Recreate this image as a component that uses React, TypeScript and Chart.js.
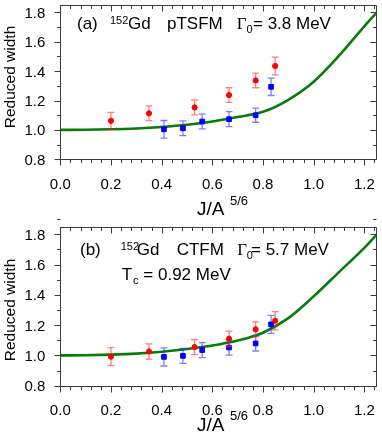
import React, { useEffect, useRef } from "react";
import { Chart, registerables } from "chart.js";

Chart.register(...registerables);

// ---------- data ----------
const redX = [0.2, 0.35, 0.53, 0.666, 0.771, 0.848];
const blueX = [0.409, 0.484, 0.56, 0.666, 0.771, 0.832];

// panel (a): pTSFM
const redYA = [1.062, 1.113, 1.153, 1.237, 1.337, 1.435];
const redErrA = [0.058, 0.05, 0.051, 0.05, 0.05, 0.06];
const blueYA = [1.004, 1.011, 1.057, 1.073, 1.1, 1.293];
const blueErrA = [0.06, 0.05, 0.05, 0.051, 0.048, 0.059];

// panel (b): CTFM
const redYB = [0.992, 1.026, 1.055, 1.11, 1.172, 1.229];
const redErrB = [0.06, 0.05, 0.05, 0.051, 0.05, 0.06];
const blueYB = [0.99, 0.997, 1.035, 1.052, 1.079, 1.205];
const blueErrB = [0.06, 0.05, 0.05, 0.05, 0.05, 0.06];

// model curves
const curveX = [0, 0.1, 0.2, 0.3, 0.4, 0.5, 0.6, 0.7, 0.8, 0.9, 1.0, 1.1, 1.2, 1.25];
const curveYA = [1.0, 1.001, 1.004, 1.01, 1.02, 1.035, 1.057, 1.088, 1.123, 1.205, 1.328, 1.505, 1.705, 1.8];
const curveYB = [1.0, 1.001, 1.005, 1.012, 1.024, 1.042, 1.065, 1.098, 1.15, 1.246, 1.39, 1.55, 1.71, 1.8];

// axes
const X_MIN = 0;
const X_MAX = 1.25;
const Y_MIN = 0.8;
const Y_MAX = 1.85;
const X_MAJOR = 0.2;
const X_MINOR = 0.04;
const Y_MAJOR = 0.2;
const Y_MINOR = 0.1;

const SANS = "'Liberation Sans', Arial, Helvetica, sans-serif";
const SERIF = "'Liberation Serif', 'Times New Roman', serif";
const TICK_FONT = `15px ${SANS}`;

type TextItem = {
  text: string;
  x: number;
  y: number;
  size: number;
  family?: string;
  rotate?: boolean;
};

const frameTicksPlugin = {
  id: "frameTicks",
  afterDraw(chart: any) {
    const { ctx, chartArea: a, scales } = chart;
    const xs = scales.x;
    const ys = scales.y;
    const L = Math.round(a.left) + 0.5;
    const R = Math.round(a.right) - 0.5;
    const T = Math.round(a.top) + 0.5;
    const B = Math.round(a.bottom) + 0.5;
    ctx.save();
    ctx.strokeStyle = "#3a3a3a";
    ctx.lineWidth = 1;
    ctx.beginPath();
    ctx.rect(L, T, R - L, B - T);
    ctx.stroke();
    const nx = Math.round((X_MAX - X_MIN) / X_MINOR);
    const perMajX = Math.round(X_MAJOR / X_MINOR);
    ctx.beginPath();
    for (let i = 0; i <= nx; i++) {
      const v = X_MIN + i * X_MINOR;
      if (v > X_MAX + 1e-9) break;
      const len = i % perMajX === 0 ? 6 : 3.5;
      const px = Math.round(xs.getPixelForValue(v)) + 0.5;
      ctx.moveTo(px, B);
      ctx.lineTo(px, B + len);
      ctx.moveTo(px, T);
      ctx.lineTo(px, T + len);
    }
    const ny = Math.round((Y_MAX - Y_MIN) / Y_MINOR);
    const perMajY = Math.round(Y_MAJOR / Y_MINOR);
    for (let i = 0; i <= ny; i++) {
      const v = Y_MIN + i * Y_MINOR;
      const len = i % perMajY === 0 ? 6 : 3.5;
      const py = Math.round(ys.getPixelForValue(v)) + 0.5;
      ctx.moveTo(L - len, py);
      ctx.lineTo(L, py);
      ctx.moveTo(R - len, py);
      ctx.lineTo(R, py);
    }
    ctx.stroke();

    // tick labels from the scales' own ticks
    ctx.fillStyle = "#000";
    ctx.font = TICK_FONT;
    ctx.textBaseline = "alphabetic";
    ctx.textAlign = "center";
    xs.ticks.forEach((t: any) => {
      const px = xs.getPixelForValue(t.value);
      ctx.fillText(Number(t.value).toFixed(1), px, a.bottom + 29.5);
    });
    ctx.textAlign = "right";
    ys.ticks.forEach((t: any) => {
      const py = ys.getPixelForValue(t.value);
      ctx.fillText(Number(t.value).toFixed(1), a.left - 15, py + 5.4);
    });
    ctx.restore();
  },
};

const errorBarPlugin = {
  id: "errorBars",
  beforeDatasetDraw(chart: any, args: any) {
    const ds = chart.data.datasets[args.index];
    if (!ds.errors) return;
    const { ctx, scales } = chart;
    const xs = scales.x;
    const ys = scales.y;
    ctx.save();
    ctx.strokeStyle = ds.errorColor;
    ctx.lineWidth = 1.3;
    ctx.beginPath();
    ds.data.forEach((p: any, i: number) => {
      const e = ds.errors[i];
      const px = xs.getPixelForValue(p.x);
      const yt = ys.getPixelForValue(p.y + e);
      const yb = ys.getPixelForValue(p.y - e);
      ctx.moveTo(px, yt);
      ctx.lineTo(px, yb);
      ctx.moveTo(px - 3.5, yt);
      ctx.lineTo(px + 3.5, yt);
      ctx.moveTo(px - 3.5, yb);
      ctx.lineTo(px + 3.5, yb);
    });
    ctx.stroke();
    ctx.restore();
  },
};

const textPlugin = {
  id: "texts",
  afterDraw(chart: any) {
    const items: TextItem[] = chart.options.plugins.texts?.items || [];
    const { ctx } = chart;
    ctx.save();
    ctx.fillStyle = "#000";
    ctx.textBaseline = "alphabetic";
    items.forEach((it) => {
      ctx.font = `${it.size}px ${it.family || SANS}`;
      if (it.rotate) {
        ctx.save();
        ctx.translate(it.x, it.y);
        ctx.rotate(-Math.PI / 2);
        ctx.textAlign = "center";
        ctx.fillText(it.text, 0, 0);
        ctx.restore();
      } else {
        ctx.textAlign = "left";
        ctx.fillText(it.text, it.x, it.y);
      }
    });
    ctx.restore();
  },
};

const zip = (xs: number[], ys: number[]) => xs.map((x, i) => ({ x, y: ys[i] }));

type PanelProps = {
  redY: number[];
  redErr: number[];
  blueY: number[];
  blueErr: number[];
  curveY: number[];
  texts: TextItem[];
  width: number;
  height: number;
  area: { left: number; right: number; top: number; bottom: number };
};

function Panel(props: PanelProps) {
  const ref = useRef<HTMLCanvasElement | null>(null);
  useEffect(() => {
    if (!ref.current) return;
    const { area, width, height } = props;
    const chart = new Chart(ref.current, {
      type: "scatter",
      data: {
        datasets: [
          {
            label: "red",
            data: zip(redX, props.redY),
            errors: props.redErr,
            errorColor: "rgba(255,40,40,0.6)",
            pointStyle: "circle",
            pointRadius: 2.6,
            borderWidth: 1,
            backgroundColor: "#ff0000",
            borderColor: "#ff0000",
            order: 0,
          } as any,
          {
            label: "blue",
            data: zip(blueX, props.blueY),
            errors: props.blueErr,
            errorColor: "rgba(40,40,255,0.6)",
            pointStyle: "rect",
            pointRadius: 3.3,
            borderWidth: 1,
            backgroundColor: "#0000ff",
            borderColor: "#0000ff",
            order: 0,
          } as any,
          {
            label: "curve",
            data: zip(curveX, props.curveY),
            showLine: true,
            pointRadius: 0,
            borderColor: "#0a7a0a",
            borderWidth: 2.6,
            cubicInterpolationMode: "monotone",
            order: 1,
          } as any,
        ],
      },
      options: {
        animation: false,
        responsive: false,
        devicePixelRatio: 1,
        layout: {
          padding: {
            left: 0,
            right: width - area.right,
            top: area.top,
            bottom: 0,
          },
        },
        plugins: {
          legend: { display: false },
          tooltip: { enabled: false },
          texts: { items: props.texts },
        } as any,
        scales: {
          x: {
            type: "linear",
            min: X_MIN,
            max: X_MAX,
            grid: { display: false, drawTicks: false },
            border: { display: false },
            ticks: {
              display: false,
              stepSize: X_MAJOR,
              includeBounds: false,
            },
            afterFit: (s: any) => {
              s.height = height - area.bottom;
            },
          },
          y: {
            type: "linear",
            min: Y_MIN,
            max: Y_MAX,
            grid: { display: false, drawTicks: false },
            border: { display: false },
            ticks: {
              display: false,
              stepSize: Y_MAJOR,
              includeBounds: false,
            },
            afterFit: (s: any) => {
              s.width = area.left;
            },
          },
        },
      } as any,
      plugins: [errorBarPlugin, frameTicksPlugin, textPlugin],
    });
    return () => chart.destroy();
  }, []);
  return (
    <canvas
      ref={ref}
      width={props.width}
      height={props.height}
      style={{ display: "block", width: props.width, height: props.height }}
    />
  );
}

const textsA: TextItem[] = [
  { text: "(a)", x: 77, y: 28.5, size: 17 },
  { text: "152", x: 110, y: 23.5, size: 11 },
  { text: "Gd", x: 128, y: 28.5, size: 17 },
  { text: "pTSFM", x: 167, y: 28.5, size: 17 },
  { text: "\u0393", x: 236.7, y: 28.5, size: 17, family: SERIF },
  { text: "0", x: 246.5, y: 33, size: 11 },
  { text: "= 3.8 MeV", x: 253, y: 28.5, size: 17 },
  { text: "J/A", x: 197, y: 215, size: 19 },
  { text: "5/6", x: 230, y: 205, size: 13 },
  { text: "Reduced width", x: 15, y: 77, size: 15.5, rotate: true },
];

const textsB: TextItem[] = [
  { text: "(b)", x: 80, y: 36.5, size: 17 },
  { text: "152", x: 120.7, y: 31.5, size: 11 },
  { text: "Gd", x: 136.7, y: 36.5, size: 17 },
  { text: "CTFM", x: 176.7, y: 36.5, size: 17 },
  { text: "\u0393", x: 237.3, y: 36.5, size: 17, family: SERIF },
  { text: "0", x: 246.7, y: 41, size: 11 },
  { text: "= 5.7 MeV", x: 251, y: 36.5, size: 17 },
  { text: "T", x: 121.7, y: 62, size: 17 },
  { text: "c", x: 133, y: 66, size: 11 },
  { text: "= 0.92 MeV", x: 143.3, y: 62, size: 17 },
  { text: "J/A", x: 197, y: 213, size: 19 },
  { text: "5/6", x: 230, y: 202, size: 13 },
  { text: "Reduced width", x: 15, y: 92, size: 15.5, rotate: true },
];

export default function App() {
  return (
    <div
      style={{
        position: "absolute",
        left: 0,
        top: 0,
        width: 382,
        height: 436,
        background: "#fff",
        overflow: "hidden",
      }}
    >
      <Panel
        redY={redYA}
        redErr={redErrA}
        blueY={blueYA}
        blueErr={blueErrA}
        curveY={curveYA}
        texts={textsA}
        width={382}
        height={218}
        area={{ left: 60.3, right: 380.5, top: 1.7, bottom: 159.3 }}
      />
      <Panel
        redY={redYB}
        redErr={redErrB}
        blueY={blueYB}
        blueErr={blueErrB}
        curveY={curveYB}
        texts={textsB}
        width={382}
        height={218}
        area={{ left: 60.3, right: 380.5, top: 8.7, bottom: 167.7 }}
      />
    </div>
  );
}
